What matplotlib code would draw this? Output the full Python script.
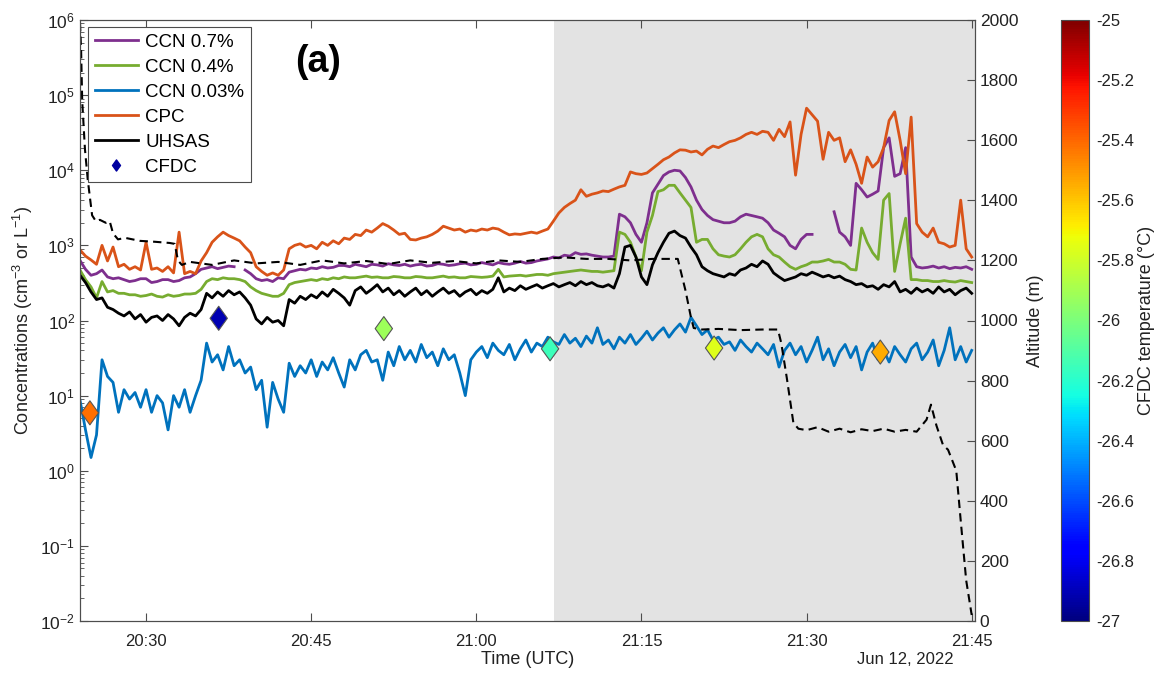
import numpy as np
import matplotlib
matplotlib.use('Agg')
import matplotlib.pyplot as plt
from matplotlib.path import Path
from matplotlib.lines import Line2D
from matplotlib.colors import Normalize
from matplotlib.cm import ScalarMappable
from matplotlib.ticker import LogLocator, NullFormatter

plt.rcParams['font.family'] = ['Liberation Sans', 'DejaVu Sans']
plt.rcParams['mathtext.fontset'] = 'custom'
plt.rcParams['mathtext.rm'] = 'Liberation Sans'
plt.rcParams['mathtext.it'] = 'Liberation Sans:italic'
plt.rcParams['mathtext.bf'] = 'Liberation Sans:bold'
plt.rcParams['axes.unicode_minus'] = False

# time axis: minutes after 20:00 UTC, one sample every 30 s
t_half = np.arange(24, 105.01, 0.5)

nan = np.nan
ccn07 = [630, 480, 400, 420, 470, 380, 360, 370, 350, 330,
         340, 360, 360, 320, 330, 350, 350, 330, 340, 370,
         380, 420, 480, 500, 520, 490, 510, 530, 520, nan,
         470, 420, 360, 340, 350, 330, 370, 360, 440, 460,
         480, 470, 500, 490, 520, 500, 510, 540, 540, 520,
         560, 540, 520, 560, 550, 530, 570, 550, 540, 560,
         530, 550, 560, 530, 540, 570, 560, 540, 550, 570,
         580, 550, 560, 590, 570, 550, 590, 570, 560, 580,
         610, 580, 590, 620, 640, 660, 700, 680, 740, 720,
         800, 760, 770, 740, 720, 700, 700, 720, 2600, 2400,
         2000, 1400, 1100, 2000, 5000, 6500, 8500, 9500, 10000, 9800,
         8000, 6000, 4000, 3000, 2500, 2200, 2100, 2000, 2000, 2100,
         2400, 2600, 2500, 2400, 2300, 2000, 1600, 1450, 1300, 1000,
         900, 1200, 1400, 1400, nan, nan, nan, 2800, 1500, 1300,
         1000, 6700, 5500, 4400, 4800, 5300, 20000, 27000, 8300, 9000,
         20000, 700, 520, 500, 510, 530, 500, 520, 490, 510,
         500, 520, 480]

ccn04 = [470, 350, 280, 200, 330, 240, 250, 230, 230, 220,
         220, 210, 215, 225, 210, 205, 220, 210, 215, 225,
         225, 230, 260, 330, 360, 350, 370, 360, 360, 350,
         330, 280, 250, 230, 220, 210, 210, 230, 300, 320,
         330, 340, 350, 340, 360, 350, 370, 360, 380, 370,
         370, 380, 390, 375, 380, 370, 370, 385, 380, 370,
         370, 385, 380, 370, 370, 380, 390, 375, 380, 370,
         370, 385, 380, 375, 380, 390, 480, 380, 390, 395,
         400, 390, 400, 410, 410, 400, 420, 430, 440, 450,
         460, 470, 460, 450, 450, 440, 450, 460, 1500, 1400,
         1100, 700, 460, 1500, 2500, 5200, 5500, 6300, 6300, 5000,
         4000, 3200, 1100, 1200, 1200, 900, 750, 720, 700, 750,
         900, 1100, 1300, 1400, 1300, 900, 750, 700, 600, 520,
         480, 520, 550, 600, 600, 620, 650, 600, 600, 560,
         480, 470, 1700, 1100, 800, 650, 4000, 4900, 450, 1050,
         2300, 350, 350, 340, 340, 330, 330, 340, 330, 325,
         340, 330, 320]

ccn003 = [8.7, 3.5, 1.5, 3.0, 30, 18, 15, 6.0, 12, 9.0,
          11, 7.0, 12, 6.0, 10, 8.0, 3.5, 10, 7.0, 12,
          6.0, 10, 16, 50, 28, 35, 22, 45, 25, 30,
          20, 24, 12, 16, 3.8, 15, 9.0, 6.0, 27, 18,
          25, 20, 30, 18, 28, 22, 32, 20, 13, 30,
          22, 35, 40, 28, 30, 16, 38, 25, 45, 30,
          40, 28, 48, 32, 38, 25, 42, 30, 35, 20,
          10, 30, 38, 45, 32, 50, 40, 35, 48, 30,
          42, 55, 38, 50, 45, 60, 52, 48, 65, 50,
          58, 45, 62, 50, 80, 48, 55, 42, 60, 50,
          65, 48, 58, 72, 55, 68, 80, 60, 75, 90,
          70, 110, 85, 65, 75, 55, 60, 48, 52, 40,
          55, 45, 38, 50, 42, 35, 48, 24, 40, 50,
          35, 45, 28, 40, 60, 30, 42, 25, 38, 48,
          32, 45, 22, 38, 50, 30, 40, 28, 45, 35,
          28, 42, 50, 30, 38, 55, 25, 40, 80, 30,
          45, 28, 40]

cpc = [870, 720, 640, 560, 1000, 620, 950, 520, 560, 480,
       520, 470, 1100, 480, 500, 450, 520, 430, 1500, 420,
       450, 420, 620, 800, 1100, 1300, 1500, 1350, 1250, 1150,
       950, 800, 520, 450, 400, 430, 400, 470, 900, 1000,
       1050, 950, 1000, 900, 1100, 1000, 1150, 1050, 1250, 1200,
       1400, 1350, 1600, 1500, 1700, 1950, 1800, 1600, 1400, 1450,
       1200, 1180, 1250, 1300, 1400, 1550, 1800, 1700, 1600, 1650,
       1500, 1600, 1550, 1650, 1600, 1700, 1650, 1500, 1380, 1420,
       1400, 1450, 1500, 1450, 1550, 1650, 2100, 2700, 3200, 3600,
       4000, 5500, 4500, 4800, 5000, 5300, 5200, 5600, 6000, 6300,
       9500, 9000, 8800, 9200, 10500, 12000, 13800, 15000, 17000, 18700,
       18500, 17500, 18000, 16000, 19000, 21000, 20000, 22000, 24000, 25000,
       27000, 30000, 32000, 30000, 33000, 32000, 25000, 35000, 28000, 44000,
       8600, 30000, 67000, 55000, 45000, 14000, 32000, 25000, 27000, 13000,
       18700, 12000, 6700, 15000, 11000, 13000, 20000, 46000, 60000, 25000,
       9000, 51000, 1950, 1500, 1300, 1700, 1100, 1050, 950, 1000,
       4000, 900, 700]

uhsas = [400, 320, 240, 190, 200, 150, 140, 125, 115, 130,
         105, 120, 95, 110, 115, 100, 120, 105, 85, 110,
         125, 115, 140, 230, 200, 240, 210, 250, 220, 240,
         200, 160, 105, 90, 110, 95, 100, 85, 190, 170,
         210, 190, 220, 200, 240, 210, 260, 230, 200, 160,
         250, 280, 230, 260, 300, 240, 270, 220, 250, 210,
         240, 270, 220, 250, 210, 240, 270, 230, 250, 210,
         240, 260, 220, 250, 230, 260, 370, 240, 270, 250,
         290, 260, 280, 300, 270, 290, 310, 280, 300, 320,
         290, 330, 300, 320, 290, 280, 300, 270, 420, 950,
         1000, 700, 380, 300, 550, 800, 1100, 1450, 1550, 1350,
         1250, 950, 750, 520, 460, 420, 400, 380, 420, 400,
         470, 500, 560, 520, 620, 560, 430, 380, 340, 360,
         380, 420, 400, 440, 410, 380, 400, 370, 390, 350,
         330, 300, 310, 280, 290, 260, 300, 280, 330, 240,
         260, 230, 270, 240, 260, 230, 280, 240, 260, 220,
         250, 270, 230]

t_alt = [24.0, 24.1, 24.2, 24.45, 24.7, 25.1, 25.45, 25.8, 26.35, 26.7,
         27.0, 27.45, 28.1, 29.45, 30.8, 32.15, 32.6, 32.9, 33.25, 34,
         36, 38, 40, 42, 44, 46, 48, 50, 52, 54,
         56, 58, 60, 62, 64, 66, 68, 70, 72, 74,
         76, 78.3, 79.0, 79.5, 79.75, 80.5, 82, 84, 86, 87.4,
         87.7, 88.2, 88.8, 89.25, 90, 91, 92, 93, 94, 95,
         96, 97, 98, 99, 100, 100.9, 101.3, 101.8, 102.4, 102.85,
         103.6, 104.0, 104.5, 105.0]
altitude = [1990, 1900, 1730, 1570, 1470, 1350, 1330, 1335, 1325, 1330,
            1290, 1270, 1275, 1265, 1262, 1258, 1255, 1200, 1185, 1195,
            1185, 1200, 1190, 1195, 1185, 1200, 1190, 1198, 1188, 1200,
            1192, 1198, 1190, 1200, 1195, 1205, 1210, 1205, 1205, 1200,
            1205, 1205, 1100, 1010, 975, 970, 972, 968, 970, 970,
            925, 810, 660, 640, 635, 645, 630, 640, 628, 638,
            632, 640, 630, 636, 630, 670, 720, 650, 585, 570,
            500, 335, 135, 20]

cfdc_t = [24.9, 36.6, 51.6, 66.7, 81.6, 96.7]
cfdc_conc = [5.9, 107, 78, 42, 43, 38]
cfdc_temp = [-25.42, -26.91, -25.92, -26.15, -25.76, -25.54]

tick_min = [30, 45, 60, 75, 90, 105]
tick_lab = ['20:30', '20:45', '21:00', '21:15', '21:30', '21:45']

c_purple = '#7E2F8E'
c_green = '#77AC30'
c_blue = '#0072BD'
c_orange = '#D95319'
grey = '#4d4d4d'
txt = '#222222'

diamond = Path([(0, 1), (0.72, 0), (0, -1), (-0.72, 0), (0, 1)],
               [Path.MOVETO, Path.LINETO, Path.LINETO, Path.LINETO, Path.CLOSEPOLY])

fig = plt.figure(figsize=(11.56, 6.75), dpi=100)
ax = fig.add_axes([80/1156, 54/675, 895/1156, 601/675])

ax.axvspan(67.1, 110, color='#e3e3e3', lw=0, zorder=0)

lw = 2.0
ax.plot(t_half, ccn07, color=c_purple, lw=lw)
ax.plot(t_half, ccn04, color=c_green, lw=lw)
ax.plot(t_half, ccn003, color=c_blue, lw=lw)
ax.plot(t_half, cpc, color=c_orange, lw=lw)
ax.plot(t_half, uhsas, color='black', lw=lw)

norm = Normalize(-27, -25)
ax.scatter(cfdc_t, cfdc_conc, c=cfdc_temp, cmap='jet', norm=norm, marker=diamond,
           s=300, edgecolors='#555555', linewidths=0.8, zorder=5)

ax.set_yscale('log')
ax.set_ylim(1e-2, 1e6)
ax.set_xlim(24, 105.3)
ax.set_yticks([10.0**k for k in range(-2, 7)])
ax.yaxis.set_minor_locator(LogLocator(base=10, subs=np.arange(2, 10), numticks=20))
ax.yaxis.set_minor_formatter(NullFormatter())
ax.set_xticks(tick_min)
ax.set_xticklabels(tick_lab)
ax.tick_params(axis='x', which='both', direction='in', top=True, length=6,
               labelsize=12, colors=grey, labelcolor=txt, pad=9)
ax.tick_params(axis='y', which='major', direction='in', length=6, labelsize=12.5,
               colors=grey, labelcolor=txt)
ax.tick_params(axis='y', which='minor', direction='in', length=3, colors=grey)
for s in ax.spines.values():
    s.set_color(grey)
    s.set_linewidth(0.8)
ax.set_ylabel('Concentrations (cm$^{-3}$ or L$^{-1}$)', fontsize=13, color=txt, labelpad=4)
ax.set_xlabel('Time (UTC)', fontsize=13, color=txt, labelpad=2)

ax.text(0.266, 0.93, '(a)', transform=ax.transAxes, fontsize=27, fontweight='bold',
        ha='center', va='center')
fig.text(905/1156, 1 - 660/675, 'Jun 12, 2022', ha='center', va='center',
         fontsize=12, color=txt)

ax2 = ax.twinx()
ax2.plot(t_alt, altitude, color='black', lw=1.5, ls=(0, (4, 2.5)))
ax2.set_ylim(0, 2000)
ax2.set_yticks(np.arange(0, 2001, 200))
ax2.tick_params(axis='y', direction='in', length=6, labelsize=12.5, colors=grey,
                labelcolor=txt)
for s in ax2.spines.values():
    s.set_color(grey)
    s.set_linewidth(0.8)
ax2.set_ylabel('Altitude (m)', fontsize=13, color=txt, labelpad=6)

handles = [Line2D([], [], color=c_purple, lw=2),
           Line2D([], [], color=c_green, lw=2),
           Line2D([], [], color=c_blue, lw=2),
           Line2D([], [], color=c_orange, lw=2),
           Line2D([], [], color='black', lw=2),
           Line2D([], [], color='#0000a0', marker=diamond, ls='none', markersize=8)]
labels = ['CCN 0.7%', 'CCN 0.4%', 'CCN 0.03%', 'CPC', 'UHSAS', 'CFDC']
leg = ax2.legend(handles, labels, loc='upper left', bbox_to_anchor=(0.009, 0.988),
                 borderaxespad=0, fontsize=13.5, frameon=True, fancybox=False,
                 edgecolor=grey, framealpha=1, labelspacing=0.42, handlelength=2.3,
                 handletextpad=0.4, borderpad=0.35)
leg.get_frame().set_linewidth(0.8)

cax = fig.add_axes([1061/1156, 54/675, 28/1156, 601/675])
sm = ScalarMappable(norm=norm, cmap='jet')
cticks = np.round(np.arange(-27, -24.99, 0.2), 1)
cb = fig.colorbar(sm, cax=cax, ticks=cticks)
cb.ax.set_yticklabels(['%g' % v for v in cticks])
cb.ax.tick_params(length=0, labelsize=12, labelcolor=txt, pad=5)
cb.outline.set_edgecolor(grey)
cb.outline.set_linewidth(0.8)
cb.set_label('CFDC temperature (°C)', fontsize=13, color=txt, labelpad=3)

fig.savefig('out.png', dpi=100)
